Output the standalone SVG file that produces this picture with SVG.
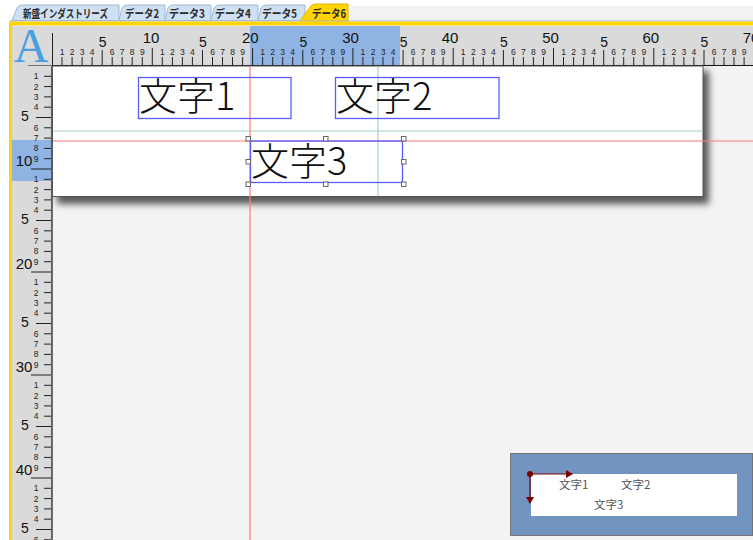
<svg xmlns="http://www.w3.org/2000/svg" width="753" height="540" viewBox="0 0 753 540">
<style>
.tab{fill:#cfe0f3;stroke:#9db9d8;stroke-width:1}
.tabt{font-family:"Noto Sans CJK JP","Noto Sans",sans-serif;font-size:11.5px;font-weight:bold;fill:#2a2a2a}
.rul{fill:#dadada}
.hl{fill:#8fb4e3}
.tk{stroke:#222;stroke-width:1;fill:none}
.hm{font-family:"Liberation Sans",Arial,sans-serif;font-size:8.5px;fill:#222;text-anchor:middle}
.vm{font-family:"Liberation Sans",Arial,sans-serif;font-size:8.5px;fill:#222;text-anchor:middle}
.big{font-family:"Liberation Sans",Arial,sans-serif;font-size:15px;fill:#111;text-anchor:middle}
.five{font-family:"Liberation Sans",Arial,sans-serif;font-size:14px;fill:#111;text-anchor:middle}
.obj{fill:none;stroke:#5b5bff;stroke-width:1.3}
.ot{font-family:"Noto Sans CJK JP","Noto Sans",sans-serif;font-size:38px;font-weight:200;fill:#111}
.hd{fill:#fff;stroke:#666;stroke-width:1}
.mt{font-family:"Noto Sans CJK JP","Noto Sans",sans-serif;font-size:11.5px;fill:#555}
.red{stroke:#ff7a7a;stroke-width:1.2}
.grn{stroke:#a6d2bf;stroke-width:1.2}
</style>
<defs>
<filter id="sh" x="-10%" y="-20%" width="120%" height="140%"><feGaussianBlur stdDeviation="3.5"/></filter>
<marker id="ah" markerWidth="8" markerHeight="8" refX="6" refY="4" orient="auto" markerUnits="userSpaceOnUse"><path d="M0,0L7,4L0,8Z" fill="#7a0000"/></marker>
</defs>

<!-- background -->
<rect x="0" y="0" width="753" height="540" fill="#ffffff"/>
<rect x="12" y="26" width="741" height="514" fill="#f3f3f3"/>
<rect x="348" y="6" width="405" height="15" fill="#f2f2f2"/>

<!-- tabs -->
<g id="tabs">
<path class="tab" d="M12,20.5L17,8Q18.5,5 22,5L119,5L119,20.5Z"/>
<path class="tab" d="M119,20.5L122,8Q123.5,5 127,5L165,5L165,20.5Z"/>
<path class="tab" d="M165,20.5L168,8Q169.5,5 173,5L211,5L211,20.5Z"/>
<path class="tab" d="M211,20.5L214,8Q215.5,5 219,5L258,5L258,20.5Z"/>
<path class="tab" d="M258,20.5L261,8Q262.5,5 266,5L305,5L305,20.5Z"/>
<path d="M300,21L310,7Q312,4 316,4L348,4L348,21Z" fill="#ffd400" stroke="#e0b800" stroke-width="1"/>
<text class="tabt" x="23" y="17.5" textLength="85" lengthAdjust="spacingAndGlyphs">新盛インダストリーズ</text>
<text class="tabt" x="125" y="17.5" textLength="34" lengthAdjust="spacingAndGlyphs">データ2</text>
<text class="tabt" x="169" y="17.5" textLength="36" lengthAdjust="spacingAndGlyphs">データ3</text>
<text class="tabt" x="215" y="17.5" textLength="36" lengthAdjust="spacingAndGlyphs">データ4</text>
<text class="tabt" x="262" y="17.5" textLength="35" lengthAdjust="spacingAndGlyphs">データ5</text>
<text class="tabt" x="312" y="17.5" textLength="34" lengthAdjust="spacingAndGlyphs" fill="#000">データ6</text>
</g>

<!-- frame -->
<rect x="9" y="20.5" width="744" height="1" fill="#a9bdd3"/>
<rect x="9" y="21.5" width="744" height="4" fill="#ffd400"/>
<rect x="9" y="21.5" width="3.2" height="518.5" fill="#ffd400"/>

<!-- rulers -->
<g id="ruler-top">
<rect class="rul" x="12" y="26" width="741" height="40"/>
<rect class="hl" x="250" y="26" width="150" height="39"/>
<path class="tk" d="M62 57V65M72.1 57V65M82.1 57V65M92.1 57V65M112.2 57V65M122.2 57V65M132.2 57V65M142.3 57V65M162.3 57V65M172.4 57V65M182.4 57V65M192.4 57V65M212.5 57V65M222.5 57V65M232.5 57V65M242.6 57V65M262.6 57V65M272.7 57V65M282.7 57V65M292.7 57V65M312.8 57V65M322.8 57V65M332.8 57V65M342.9 57V65M362.9 57V65M373 57V65M383 57V65M393 57V65M413.1 57V65M423.1 57V65M433.1 57V65M443.2 57V65M463.2 57V65M473.3 57V65M483.3 57V65M493.3 57V65M513.4 57V65M523.4 57V65M533.4 57V65M543.5 57V65M563.5 57V65M573.6 57V65M583.6 57V65M593.6 57V65M613.7 57V65M623.7 57V65M633.7 57V65M643.8 57V65M663.8 57V65M673.9 57V65M683.9 57V65M693.9 57V65M714 57V65M724 57V65M734 57V65M744.1 57V65"/>
<path class="tk" d="M102.2 50V65M202.5 50V65M302.8 50V65M403.1 50V65M503.4 50V65M603.7 50V65M704 50V65"/>
<path class="tk" d="M52.5 33V66M152.3 48V65M252.6 48V65M352.9 48V65M453.2 48V65M553.5 48V65M653.8 48V65"/>
<path d="M28 65.5H753" stroke="#111" stroke-width="1.2"/>
<text class="hm" x="62" y="55">1</text><text class="hm" x="72.1" y="55">2</text><text class="hm" x="82.1" y="55">3</text><text class="hm" x="92.1" y="55">4</text><text class="hm" x="112.2" y="55">6</text><text class="hm" x="122.2" y="55">7</text><text class="hm" x="132.2" y="55">8</text><text class="hm" x="142.3" y="55">9</text>
<text class="hm" x="162.3" y="55">1</text><text class="hm" x="172.4" y="55">2</text><text class="hm" x="182.4" y="55">3</text><text class="hm" x="192.4" y="55">4</text><text class="hm" x="212.5" y="55">6</text><text class="hm" x="222.5" y="55">7</text><text class="hm" x="232.5" y="55">8</text><text class="hm" x="242.6" y="55">9</text>
<text class="hm" x="262.6" y="55">1</text><text class="hm" x="272.7" y="55">2</text><text class="hm" x="282.7" y="55">3</text><text class="hm" x="292.7" y="55">4</text><text class="hm" x="312.8" y="55">6</text><text class="hm" x="322.8" y="55">7</text><text class="hm" x="332.8" y="55">8</text><text class="hm" x="342.9" y="55">9</text>
<text class="hm" x="362.9" y="55">1</text><text class="hm" x="373" y="55">2</text><text class="hm" x="383" y="55">3</text><text class="hm" x="393" y="55">4</text><text class="hm" x="413.1" y="55">6</text><text class="hm" x="423.1" y="55">7</text><text class="hm" x="433.1" y="55">8</text><text class="hm" x="443.2" y="55">9</text>
<text class="hm" x="463.2" y="55">1</text><text class="hm" x="473.3" y="55">2</text><text class="hm" x="483.3" y="55">3</text><text class="hm" x="493.3" y="55">4</text><text class="hm" x="513.4" y="55">6</text><text class="hm" x="523.4" y="55">7</text><text class="hm" x="533.4" y="55">8</text><text class="hm" x="543.5" y="55">9</text>
<text class="hm" x="563.5" y="55">1</text><text class="hm" x="573.6" y="55">2</text><text class="hm" x="583.6" y="55">3</text><text class="hm" x="593.6" y="55">4</text><text class="hm" x="613.7" y="55">6</text><text class="hm" x="623.7" y="55">7</text><text class="hm" x="633.7" y="55">8</text><text class="hm" x="643.8" y="55">9</text>
<text class="hm" x="663.8" y="55">1</text><text class="hm" x="673.9" y="55">2</text><text class="hm" x="683.9" y="55">3</text><text class="hm" x="693.9" y="55">4</text><text class="hm" x="714" y="55">6</text><text class="hm" x="724" y="55">7</text><text class="hm" x="734" y="55">8</text><text class="hm" x="744.1" y="55">9</text>
<text class="five" x="102.7" y="47">5</text><text class="five" x="203" y="47">5</text><text class="five" x="303.3" y="47">5</text><text class="five" x="403.6" y="47">5</text><text class="five" x="503.9" y="47">5</text><text class="five" x="604.2" y="47">5</text><text class="five" x="704.5" y="47">5</text>
<text class="big" x="151" y="43">10</text><text class="big" x="250.3" y="43">20</text><text class="big" x="350.6" y="43">30</text><text class="big" x="450" y="43">40</text><text class="big" x="550.5" y="43">50</text><text class="big" x="650.8" y="43">60</text><text class="big" x="751" y="43">70</text>
</g>

<g id="ruler-left">
<rect class="rul" x="12" y="66" width="40" height="474"/>
<rect class="hl" x="12" y="140" width="39" height="41"/>
<path class="tk" d="M44 76.3H51M44 86.6H51M44 96.9H51M44 107.2H51M44 127.8H51M44 138.1H51M44 148.4H51M44 158.7H51M44 179.3H51M44 189.6H51M44 199.9H51M44 210.2H51M44 230.8H51M44 241.1H51M44 251.4H51M44 261.7H51M44 282.3H51M44 292.6H51M44 302.9H51M44 313.2H51M44 333.8H51M44 344.1H51M44 354.4H51M44 364.7H51M44 385.3H51M44 395.6H51M44 405.9H51M44 416.2H51M44 436.8H51M44 447.1H51M44 457.4H51M44 467.7H51M44 488.3H51M44 498.6H51M44 508.9H51M44 519.2H51M44 539.8H51"/>
<path class="tk" d="M36 117.5H51M36 220.5H51M36 323.5H51M36 426.5H51M36 529.5H51"/>
<path class="tk" d="M31 169H51M31 272H51M31 375H51M31 478H51"/>
<path d="M52 66V540" stroke="#111" stroke-width="1.2"/>
<text class="vm" x="36" y="79.3">1</text><text class="vm" x="36" y="89.6">2</text><text class="vm" x="36" y="99.9">3</text><text class="vm" x="36" y="110.2">4</text><text class="vm" x="36" y="130.8">6</text><text class="vm" x="36" y="141.1">7</text><text class="vm" x="36" y="151.4">8</text><text class="vm" x="36" y="161.7">9</text>
<text class="vm" x="36" y="182.3">1</text><text class="vm" x="36" y="192.6">2</text><text class="vm" x="36" y="202.9">3</text><text class="vm" x="36" y="213.2">4</text><text class="vm" x="36" y="233.8">6</text><text class="vm" x="36" y="244.1">7</text><text class="vm" x="36" y="254.4">8</text><text class="vm" x="36" y="264.7">9</text>
<text class="vm" x="36" y="285.3">1</text><text class="vm" x="36" y="295.6">2</text><text class="vm" x="36" y="305.9">3</text><text class="vm" x="36" y="316.2">4</text><text class="vm" x="36" y="336.8">6</text><text class="vm" x="36" y="347.1">7</text><text class="vm" x="36" y="357.4">8</text><text class="vm" x="36" y="367.7">9</text>
<text class="vm" x="36" y="388.3">1</text><text class="vm" x="36" y="398.6">2</text><text class="vm" x="36" y="408.9">3</text><text class="vm" x="36" y="419.2">4</text><text class="vm" x="36" y="439.8">6</text><text class="vm" x="36" y="450.1">7</text><text class="vm" x="36" y="460.4">8</text><text class="vm" x="36" y="470.7">9</text>
<text class="vm" x="36" y="491.3">1</text><text class="vm" x="36" y="501.6">2</text><text class="vm" x="36" y="511.9">3</text><text class="vm" x="36" y="522.2">4</text><text class="vm" x="36" y="542.8">6</text>
<text class="five" x="25" y="120.5">5</text><text class="five" x="25" y="223.5">5</text><text class="five" x="25" y="326.5">5</text><text class="five" x="25" y="429.5">5</text><text class="five" x="25" y="532.5">5</text>
<text class="big" x="24" y="166">10</text><text class="big" x="24" y="269">20</text><text class="big" x="24" y="372">30</text><text class="big" x="24" y="475">40</text>
</g>

<g id="corner">
<rect class="rul" x="12" y="26" width="40" height="39.5"/>
<text x="31" y="62" font-family="'Liberation Serif','Times New Roman',serif" font-size="48" fill="#4a9fe0" text-anchor="middle">A</text>
</g>

<!-- page -->
<g id="page">
<rect x="57" y="71" width="652" height="133" fill="#3a3a3a" opacity="0.85" filter="url(#sh)"/>
<rect x="52.5" y="66" width="650.5" height="130.5" fill="#ffffff" stroke="#555" stroke-width="1"/>
</g>

<!-- guides -->
<g id="guides">
<path class="grn" d="M53 131H703"/>
<path class="grn" d="M378 66.5V196"/>
<path class="red" d="M53 141H753"/>
<path class="red" d="M250 66V540"/>
</g>

<g id="obj1">
<rect class="obj" x="138.5" y="77.5" width="152.5" height="41"/>
<text class="ot" x="139" y="110">文字1</text>
</g>
<g id="obj2">
<rect class="obj" x="335.5" y="77.5" width="163.5" height="41"/>
<text class="ot" x="336" y="110">文字2</text>
</g>
<g id="obj3">
<rect class="obj" x="250.5" y="141" width="152" height="41.5"/>
<text class="ot" x="251" y="175">文字3</text>
<rect class="hd" x="246" y="136.5" width="4.5" height="4.5"/>
<rect class="hd" x="323.5" y="136.5" width="4.5" height="4.5"/>
<rect class="hd" x="401.5" y="136.5" width="4.5" height="4.5"/>
<rect class="hd" x="246" y="159.5" width="4.5" height="4.5"/>
<rect class="hd" x="401.5" y="159.5" width="4.5" height="4.5"/>
<rect class="hd" x="246" y="182" width="4.5" height="4.5"/>
<rect class="hd" x="323.5" y="182" width="4.5" height="4.5"/>
<rect class="hd" x="401.5" y="182" width="4.5" height="4.5"/>
</g>

<!-- minimap -->
<g id="minimap">
<rect x="510.5" y="453.5" width="242" height="82" fill="#7294c0" stroke="#737373" stroke-width="1"/>
<rect x="531" y="474" width="206" height="42" fill="#ffffff"/>
<text class="mt" x="559" y="489">文字1</text>
<text class="mt" x="621" y="489">文字2</text>
<text class="mt" x="594" y="509">文字3</text>
</g>
<g id="connectors">
<path d="M530 474H572" stroke="#7a0000" stroke-width="1.2" marker-end="url(#ah)"/>
<path d="M530 474V503" stroke="#7a0000" stroke-width="1.2" marker-end="url(#ah)"/>
<circle cx="530" cy="474" r="3" fill="#7a0000"/>
</g>
</svg>
